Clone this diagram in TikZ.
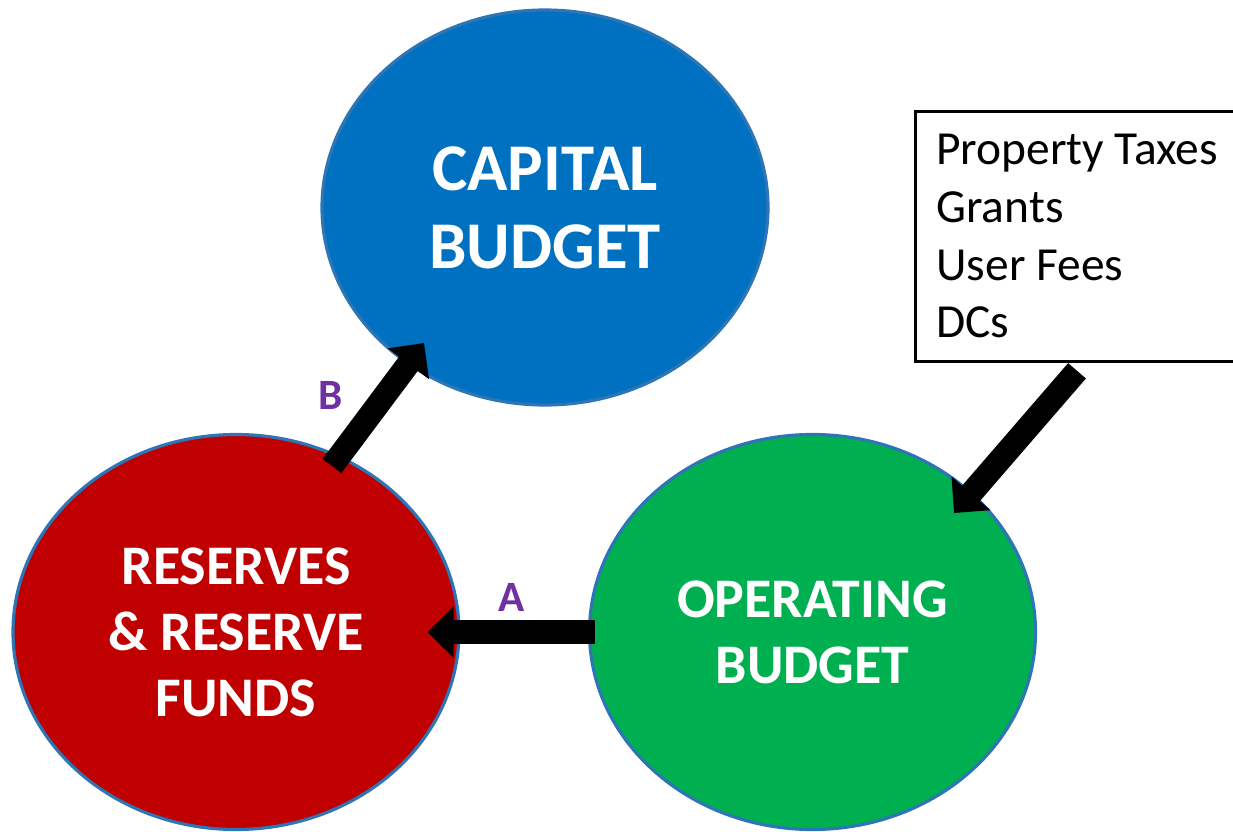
\documentclass[tikz,border=0pt]{standalone}
\usepackage{fontspec}
\setmainfont{Carlito}
\usepackage{tikz}
\usetikzlibrary{shapes.geometric,arrows.meta,positioning,calc}
\definecolor{capitalblue}{RGB}{0,112,192}
\definecolor{reservered}{RGB}{192,0,0}
\definecolor{operatinggreen}{RGB}{0,176,80}
\definecolor{outlineblue}{RGB}{46,117,182}
\definecolor{labelpurple}{RGB}{112,48,160}

\begin{document}
\begin{tikzpicture}[
    budget/.style={ellipse, draw=outlineblue, line width=0.9pt, minimum width=4.46cm, minimum height=3.95cm, inner sep=0pt, align=center, text=white, font=\bfseries\fontsize{15.9}{18.8}\selectfont},
    sources/.style={rectangle, draw=black, line width=0.8pt, text width=3.3cm, minimum height=2.5cm, inner xsep=0.21cm, align=flush left, font=\fontsize{13.5}{16.4}\selectfont},
    flow/.style={-{Triangle[length=2.6mm,width=5mm]}, line width=2.35mm, black},
    tag/.style={text=labelpurple, font=\bfseries\fontsize{12.3}{14}\selectfont}
]
\useasboundingbox (0,0) rectangle (12.33,8.31);

% Budgets
\node[budget, fill=capitalblue, font=\bfseries\fontsize{19}{22.2}\selectfont] (capital) at (5.45,6.235) {CAPITAL\\BUDGET};
\node[budget, fill=reservered] (reserves) at (2.36,1.99) {RESERVES\\\& RESERVE\\FUNDS};
\node[budget, fill=operatinggreen] (operating) at (8.125,1.99) {OPERATING\\BUDGET};

% Revenue sources
\node[sources, anchor=north west] (revenue) at (9.14,7.21) {Property Taxes\\Grants\\User Fees\\DCs};

% Arrow ends
\coordinate (revTail) at ($(revenue.south west)+(1.63,-0.08)$);
\coordinate (revTip) at ($(operating.center)+(1.415,1.19)$);
\coordinate (aTail) at ($(operating.west)+(0.07,0)$);
\coordinate (aTip) at ($(reserves.east)+(-0.33,0)$);
\coordinate (bTail) at ($(reserves.center)+(0.96,1.66)$);
\coordinate (bTip) at ($(capital.center)+(-1.21,-1.355)$);

% Arrows
\draw[flow] (revTail) -- (revTip);
\draw[flow] (aTail) -- (aTip);
\draw[flow] (bTail) -- (bTip);

% Labels
\node[tag] (labelA) at (5.12,2.34) {A};
\node[tag] (labelB) at (3.31,4.36) {B};

\end{tikzpicture}
\end{document}
